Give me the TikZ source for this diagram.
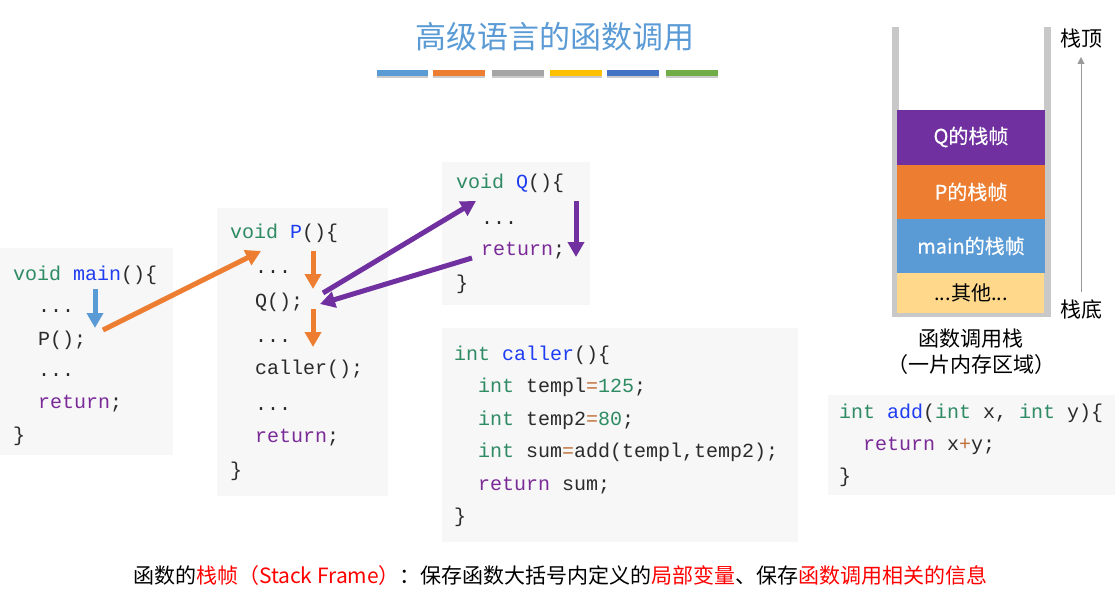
\documentclass[tikz,border=0pt]{standalone}
\usepackage{fontspec}
\setmainfont{Noto Sans CJK SC}
\setmonofont{Liberation Mono}
\newfontfamily\semib[FakeBold=0.35]{Noto Sans CJK SC}
\usetikzlibrary{arrows.meta}
\definecolor{cgreen}{HTML}{2E8B63}
\definecolor{cblue}{HTML}{1F3DF0}
\definecolor{cpurple}{HTML}{7A2B98}
\definecolor{cop}{HTML}{C0703A}
\definecolor{ctext}{HTML}{2B2B2B}
\definecolor{panelbg}{HTML}{F7F7F7}
\definecolor{mblue}{HTML}{5B9BD5}
\definecolor{morange}{HTML}{ED7D31}
\definecolor{mgray}{HTML}{A5A5A5}
\definecolor{mgold}{HTML}{FFC000}
\definecolor{mdblue}{HTML}{4472C4}
\definecolor{mgreen}{HTML}{70AD47}
\definecolor{mpurple}{HTML}{7030A0}
\definecolor{mcream}{HTML}{FFD88C}
\definecolor{wall}{HTML}{C8C8C8}
\newcommand{\kw}[1]{\textcolor{cgreen}{#1}}
\newcommand{\fn}[1]{\textcolor{cblue}{#1}}
\newcommand{\rt}[1]{\textcolor{cpurple}{#1}}
\newcommand{\op}[1]{\textcolor{cop}{#1}}
\newcommand{\rd}[1]{\textcolor{red}{#1}}
\tikzset{
  x=1pt,y=-1pt,
  panel/.style={fill=panelbg,draw=none},
  code/.style={anchor=base west,inner sep=0pt,font=\ttfamily\fontsize{20}{20}\selectfont,text=ctext},
  barfill/.style={fill=#1,draw=none},
  barshade/.style={fill=black!45,draw=none,opacity=.45},
  framefill/.style={fill=#1,draw=none},
  framelabel/.style={inner sep=0pt,text=white,font=\semib\fontsize{20}{20}\selectfont},
  lab/.style={inner sep=0pt,font=\fontsize{21}{21}\selectfont,text=black},
  footlab/.style={inner sep=0pt,font=\fontsize{21}{21}\selectfont,text=black},
  flow/.style={draw=#1,line width=5pt,-{Triangle[length=15pt,width=16pt,fill=#1]}},
}
\begin{document}
\begin{tikzpicture}
\useasboundingbox (0,0) rectangle (1120,594);
% panels
\fill[panel] (0,248) rectangle (173,455);
\fill[panel] (217,208) rectangle (388,496);
\fill[panel] (442,162) rectangle (590,305);
\fill[panel] (442,328) rectangle (798,542);
\fill[panel] (828,395) rectangle (1115,495);
% title
\node[inner sep=0pt,text=mblue,font=\fontsize{31}{31}\selectfont] (title) at (555,37) {高级语言的函数调用};
\fill[barshade] (377,76) rectangle (428,78);
\fill[barshade] (433,76) rectangle (485,78);
\fill[barshade] (492,76) rectangle (544,78);
\fill[barshade] (550,76) rectangle (602,78);
\fill[barshade] (607,76) rectangle (659,78);
\fill[barshade] (666,76) rectangle (718,78);
\fill[barfill=mblue] (377,70) rectangle (428,76);
\fill[barfill=morange] (433,70) rectangle (485,76);
\fill[barfill=mgray] (492,70) rectangle (544,76);
\fill[barfill=mgold] (550,70) rectangle (602,76);
\fill[barfill=mdblue] (607,70) rectangle (659,76);
\fill[barfill=mgreen] (666,70) rectangle (718,76);
% main
\node[code] (m1) at (13,280) {\kw{void} \fn{main}()\{};
\node[code] (m2) at (38,312) {...};
\node[code] (m3) at (38,345) {P();};
\node[code] (m4) at (38,376) {...};
\node[code] (m5) at (38,408) {\rt{return};};
\node[code] (m6) at (13,441) {\}};
% P
\node[code] (p1) at (230,238) {\kw{void} \fn{P}()\{};
\node[code] (p2) at (255,273) {...};
\node[code] (p3) at (255,307) {Q();};
\node[code] (p4) at (255,342) {...};
\node[code] (p5) at (255,374) {caller();};
\node[code] (p6) at (255,410) {...};
\node[code] (p7) at (255,442) {\rt{return};};
\node[code] (p8) at (230,476) {\}};
% Q
\node[code] (q1) at (456,188) {\kw{void} \fn{Q}()\{};
\node[code] (q2) at (481,224) {...};
\node[code] (q3) at (481,255) {\rt{return};};
\node[code] (q4) at (456,289) {\}};
% caller
\node[code] (c1) at (454,360) {\kw{int} \fn{caller}()\{};
\node[code] (c2) at (478,392) {\kw{int} templ\op{=}\kw{125};};
\node[code] (c3) at (478,425) {\kw{int} temp2\op{=}\kw{80};};
\node[code] (c4) at (478,457) {\kw{int} sum\op{=}add(templ,temp2);};
\node[code] (c5) at (478,490) {\rt{return} sum;};
\node[code] (c6) at (454,522) {\}};
% add
\node[code] (a1) at (839,418) {\kw{int} \fn{add}(\kw{int} x, \kw{int} y)\{};
\node[code] (a2) at (863,450) {\rt{return} x\op{+}y;};
\node[code] (a3) at (839,482) {\}};
% stack
\fill[wall] (892,27) rectangle (899,317);
\fill[wall] (1044,27) rectangle (1051,317);
\fill[wall] (892,313) rectangle (1051,317);
\fill[framefill=mpurple] (897,110) rectangle (1045,165);
\fill[framefill=morange] (897,165) rectangle (1045,219);
\fill[framefill=mblue] (897,219) rectangle (1045,273);
\fill[framefill=mcream] (897,273) rectangle (1044,313);
\node[framelabel] (lq) at (971,137) {Q的栈帧};
\node[framelabel] (lp) at (971,192) {P的栈帧};
\node[framelabel] (lm) at (971,246) {main的栈帧};
\node[framelabel,text=black,font=\fontsize{20}{20}\selectfont] (lo) at (971,293) {...其他...};
\node[lab] (top) at (1081,39) {栈顶};
\node[lab] (bot) at (1081,310) {栈底};
\draw[draw=gray!80,line width=.9pt,-{Triangle[length=7pt,width=7pt,fill=gray!80]}] (bot) ++(0,-18) coordinate (ba) -- (1081,57);
\node[lab] (s1) at (971,339) {函数调用栈};
\node[lab] (s2) at (971,365) {（一片内存区域）};
% arrows
\coordinate (b1) at (95,289); \coordinate (b2) at (95,328);
\draw[flow=mblue] (b1) -- (b2);
\coordinate (o1) at (103,330); \coordinate (o2) at (261,251);
\draw[flow=morange] (o1) -- (o2);
\coordinate (o3) at (313,251); \coordinate (o4) at (313,289);
\draw[flow=morange] (o3) -- (o4);
\coordinate (o5) at (313,309); \coordinate (o6) at (313,347);
\draw[flow=morange] (o5) -- (o6);
\coordinate (u1) at (323,293); \coordinate (u2) at (476,201);
\draw[flow=mpurple] (u1) -- (u2);
\coordinate (u3) at (472,258); \coordinate (u4) at (320,304);
\draw[flow=mpurple] (u3) -- (u4);
\coordinate (u5) at (576,201); \coordinate (u6) at (576,257);
\draw[flow=mpurple] (u5) -- (u6);
% bottom line
\node[footlab] (foot) at (560.5,576) {函数的\rd{栈帧（Stack Frame）}：保存函数大括号内定义的\rd{局部变量}、保存\rd{函数调用相关的信息}};
\end{tikzpicture}
\end{document}
